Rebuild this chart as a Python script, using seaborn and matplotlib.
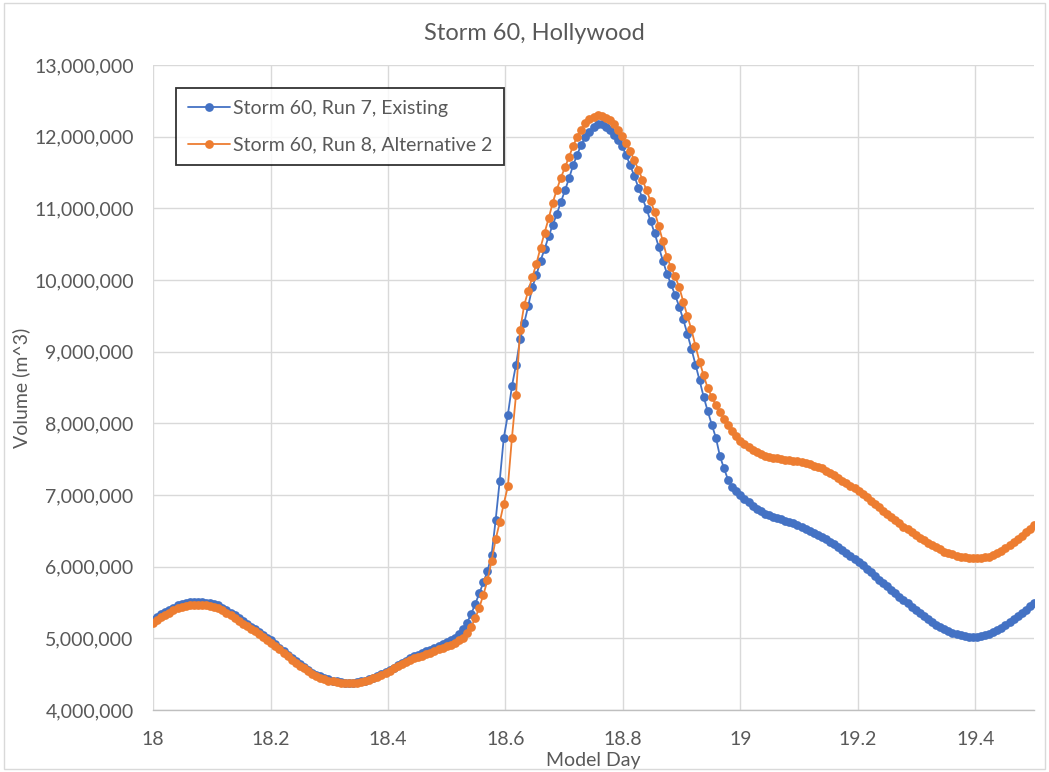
import numpy as np
import pandas as pd
import seaborn as sns
import matplotlib.pyplot as plt
from matplotlib.ticker import FuncFormatter
from matplotlib.patches import Rectangle

# model output every 10 minutes, day 18.0 -> 19.5
day_start, day_end = 18.0, 19.5

# volume in millions of m^3, one row = 2 hours (12 steps)
vol_existing = [
    5.26, 5.30, 5.34, 5.37, 5.40, 5.43, 5.46, 5.48, 5.495, 5.505, 5.51, 5.51,
    5.51, 5.50, 5.49, 5.48, 5.46, 5.43, 5.40, 5.36, 5.32, 5.28, 5.24, 5.20,
    5.16, 5.13, 5.09, 5.05, 5.01, 4.97, 4.92, 4.87, 4.82, 4.77, 4.72, 4.68,
    4.64, 4.60, 4.56, 4.52, 4.49, 4.47, 4.45, 4.43, 4.41, 4.40, 4.39, 4.38,
    4.38, 4.38, 4.39, 4.40, 4.41, 4.43, 4.45, 4.47, 4.50, 4.53, 4.56, 4.59,
    4.63, 4.66, 4.69, 4.72, 4.75, 4.77, 4.80, 4.82, 4.84, 4.87, 4.89, 4.92,
    4.95, 4.98, 5.01, 5.06, 5.13, 5.22, 5.34, 5.48, 5.63, 5.78, 5.94, 6.16,
    6.65, 7.20, 7.80, 8.12, 8.52, 8.82, 9.17, 9.40, 9.64, 9.90, 10.07, 10.27,
    10.43, 10.61, 10.77, 10.92, 11.09, 11.25, 11.42, 11.60, 11.75, 11.89, 11.99, 12.07,
    12.14, 12.18, 12.17, 12.14, 12.09, 12.03, 11.96, 11.87, 11.74, 11.60, 11.45, 11.29,
    11.14, 10.99, 10.82, 10.65, 10.46, 10.27, 10.09, 9.94, 9.79, 9.63, 9.45, 9.25,
    9.04, 8.82, 8.60, 8.37, 8.17, 7.98, 7.80, 7.54, 7.37, 7.21, 7.11, 7.05,
    7.00, 6.95, 6.90, 6.85, 6.81, 6.77, 6.74, 6.72, 6.70, 6.68, 6.66, 6.64,
    6.63, 6.61, 6.58, 6.55, 6.52, 6.50, 6.47, 6.44, 6.41, 6.38, 6.35, 6.31,
    6.27, 6.23, 6.19, 6.15, 6.11, 6.07, 6.02, 5.97, 5.92, 5.87, 5.82, 5.77,
    5.73, 5.68, 5.63, 5.58, 5.54, 5.49, 5.44, 5.40, 5.35, 5.31, 5.27, 5.23,
    5.19, 5.16, 5.13, 5.10, 5.08, 5.06, 5.04, 5.03, 5.02, 5.02, 5.02, 5.03,
    5.04, 5.06, 5.09, 5.12, 5.15, 5.19, 5.23, 5.27, 5.31, 5.35, 5.40, 5.45,
    5.50,
]

vol_alt2 = [
    5.22, 5.26, 5.30, 5.33, 5.36, 5.39, 5.42, 5.44, 5.455, 5.465, 5.47, 5.47,
    5.47, 5.46, 5.45, 5.44, 5.42, 5.39, 5.36, 5.32, 5.28, 5.24, 5.20, 5.17,
    5.13, 5.10, 5.06, 5.02, 4.98, 4.94, 4.90, 4.85, 4.80, 4.75, 4.70, 4.66,
    4.62, 4.58, 4.54, 4.50, 4.47, 4.45, 4.43, 4.41, 4.40, 4.39, 4.38, 4.37,
    4.37, 4.37, 4.38, 4.39, 4.40, 4.42, 4.44, 4.46, 4.49, 4.52, 4.55, 4.58,
    4.61, 4.64, 4.67, 4.70, 4.72, 4.74, 4.76, 4.78, 4.80, 4.83, 4.85, 4.87,
    4.89, 4.91, 4.94, 4.97, 5.01, 5.07, 5.16, 5.28, 5.43, 5.61, 5.81, 6.08,
    6.38, 6.62, 6.88, 7.12, 7.80, 8.40, 9.30, 9.65, 9.85, 10.04, 10.23, 10.45,
    10.66, 10.86, 11.08, 11.26, 11.43, 11.57, 11.72, 11.87, 12.00, 12.10, 12.19, 12.25,
    12.28, 12.30, 12.29, 12.26, 12.23, 12.17, 12.10, 12.01, 11.91, 11.80, 11.67, 11.54,
    11.40, 11.25, 11.10, 10.95, 10.75, 10.54, 10.32, 10.18, 10.05, 9.90, 9.70, 9.50,
    9.31, 9.08, 8.86, 8.67, 8.49, 8.37, 8.25, 8.16, 8.06, 7.97, 7.89, 7.82,
    7.76, 7.71, 7.67, 7.63, 7.60, 7.57, 7.55, 7.53, 7.52, 7.51, 7.50, 7.49,
    7.49, 7.48, 7.47, 7.46, 7.44, 7.43, 7.41, 7.39, 7.37, 7.34, 7.31, 7.28,
    7.24, 7.20, 7.17, 7.13, 7.10, 7.06, 7.01, 6.97, 6.92, 6.88, 6.83, 6.78,
    6.74, 6.69, 6.65, 6.61, 6.56, 6.52, 6.48, 6.44, 6.40, 6.37, 6.33, 6.30,
    6.27, 6.24, 6.21, 6.19, 6.17, 6.15, 6.14, 6.13, 6.12, 6.12, 6.12, 6.12,
    6.13, 6.14, 6.16, 6.19, 6.22, 6.26, 6.30, 6.34, 6.39, 6.43, 6.48, 6.53,
    6.58,
]

series_names = ['Storm 60, Run 7, Existing', 'Storm 60, Run 8, Alternative 2']
colors = ['#4472C4', '#ED7D31']
x_ticks = [18, 18.2, 18.4, 18.6, 18.8, 19, 19.2, 19.4]
y_ticks = [4e6, 5e6, 6e6, 7e6, 8e6, 9e6, 10e6, 11e6, 12e6, 13e6]

days = np.linspace(day_start, day_end, len(vol_existing))

sns.set_style('whitegrid')
plt.rcParams['font.family'] = ['Lato', 'DejaVu Sans']
text_gray = '#595959'

fig = plt.figure(figsize=(10.49, 7.72), dpi=100)
ax = fig.add_axes([0.1459, 0.0803, 0.8398, 0.8355])

for name, vals, c in zip(series_names, [vol_existing, vol_alt2], colors):
    sns.lineplot(x=days, y=np.array(vals) * 1e6, ax=ax, color=c, label=name,
                 marker='o', markersize=6.3, markeredgewidth=0, linewidth=1.3)

ax.set_xlim(day_start, day_end)
ax.set_ylim(y_ticks[0], y_ticks[-1])
ax.set_xticks(x_ticks)
ax.set_yticks(y_ticks)
ax.xaxis.set_major_formatter(FuncFormatter(lambda v, p: f'{v:g}'))
ax.yaxis.set_major_formatter(FuncFormatter(lambda v, p: f'{int(v):,}'))
ax.tick_params(axis='both', length=0, labelsize=14, labelcolor=text_gray)
ax.tick_params(axis='x', pad=15)
ax.tick_params(axis='y', pad=14)
ax.grid(True, color='#D9D9D9', linewidth=1.0)

for side in ['left', 'right', 'top']:
    ax.spines[side].set_visible(False)
ax.spines['bottom'].set_color('#BFBFBF')
ax.spines['bottom'].set_linewidth(1.0)

ax.set_xlabel('Model Day', fontsize=14, color=text_gray, labelpad=3)
ax.set_ylabel('Volume (m^3)', fontsize=14, color=text_gray, labelpad=3)
fig.text(0.509, 0.957, 'Storm 60, Hollywood', ha='center', va='center',
         fontsize=17, color=text_gray)

leg = ax.legend(loc='upper left', bbox_to_anchor=(0.026, 0.964), borderaxespad=0,
                fontsize=14, frameon=True, fancybox=False, handlelength=2.2,
                borderpad=0.6, labelspacing=1.0, handletextpad=0.15)
leg.get_frame().set_edgecolor('#000000')
leg.get_frame().set_linewidth(1.3)
for t in leg.get_texts():
    t.set_color(text_gray)

fig.patches.append(Rectangle((0.004, 0.004), 0.992, 0.992, transform=fig.transFigure,
                             fill=False, edgecolor='#D9D9D9', linewidth=1.0))

fig.savefig('out.png', dpi=100)
